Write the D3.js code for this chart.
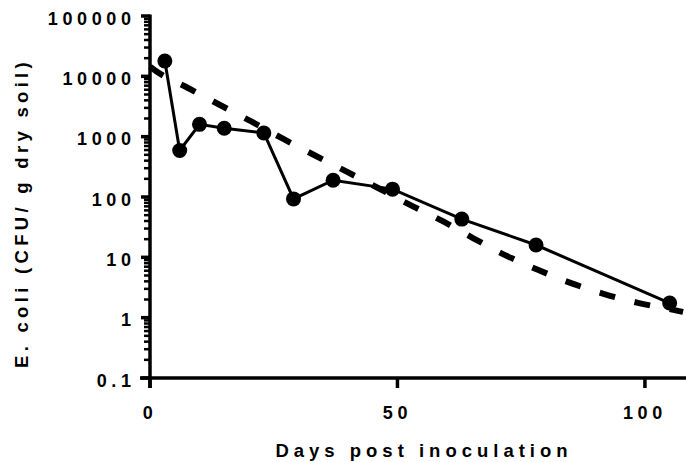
<!DOCTYPE html>
<html>
<head>
<meta charset="utf-8">
<script src="https://cdn.jsdelivr.net/npm/d3@7/dist/d3.min.js"></script>
<style>
  html, body { margin: 0; padding: 0; background: #fff; }
  svg { display: block; }
  text { font-family: "Liberation Sans", Arial, Helvetica, sans-serif; font-weight: bold; fill: #000; }
</style>
</head>
<body>
<svg id="chart" width="686" height="462"></svg>
<script>
// Measured E. coli counts (CFU / g dry soil) by day
const days = [3, 6, 10, 15, 23, 29, 37, 49, 63, 78, 105];
const cfu = [18000, 590, 1600, 1380, 1150, 93, 190, 135, 43, 16, 1.75];

// Fitted decay curve (dashed), sampled along the fit
const fitDays = [0, 1.35, 7.68, 14.15, 20.55, 26.94, 33.35, 39.75, 46.08, 52.55, 58.95, 65.34, 71.75, 78.48, 85.23, 91.96, 99.03, 106.45, 107.7];
const fitCfu = [14500, 12000, 6410, 3350, 1770, 916, 488, 263, 141, 74, 40.5, 20.7, 10.9, 6.17, 3.7, 2.44, 1.73, 1.31, 1.24];

// Axis ticks
const xTicks = [0, 50, 100];
const yTicks = [0.1, 1, 10, 100, 1000, 10000, 100000];
const yTickLabels = ["0.1", "1", "10", "100", "1000", "10000", "100000"];

const xTitle = "Days post inoculation";
const yTitle = "E. coli (CFU/ g dry soil)";

const svg = d3.select("#chart");

const x = d3.scaleLinear().domain([0, 108.3]).range([150, 686]);
const y = d3.scaleLog().domain([0.1, 100000]).range([378, 16]);

const x0 = x(0), yb = y(0.1);

// Minor ticks: 2..9 within each decade
const minorTicks = [];
yTicks.slice(0, -1).forEach(d => {
  for (let k = 2; k <= 9; k++) minorTicks.push(d * k);
});

const axisG = svg.append("g");

// Y axis line (extends below the origin like an offset tick)
axisG.append("line")
  .attr("x1", x0).attr("x2", x0)
  .attr("y1", y(100000) - 1.5).attr("y2", yb + 10)
  .attr("stroke", "#000").attr("stroke-width", 3.5);

// X axis line (extends left of the origin)
axisG.append("line")
  .attr("x1", x0 - 10).attr("x2", x.range()[1])
  .attr("y1", yb).attr("y2", yb)
  .attr("stroke", "#000").attr("stroke-width", 3.5);

// Y major ticks
axisG.selectAll("line.ymaj").data(yTicks).join("line")
  .attr("class", "ymaj")
  .attr("x1", x0 - 9).attr("x2", x0)
  .attr("y1", d => y(d)).attr("y2", d => y(d))
  .attr("stroke", "#000").attr("stroke-width", 3.5);

// Y minor ticks
axisG.selectAll("line.ymin").data(minorTicks).join("line")
  .attr("class", "ymin")
  .attr("x1", x0 - 6).attr("x2", x0)
  .attr("y1", d => y(d)).attr("y2", d => y(d))
  .attr("stroke", "#000").attr("stroke-width", 2.5);

// X ticks
axisG.selectAll("line.xt").data(xTicks).join("line")
  .attr("class", "xt")
  .attr("x1", d => x(d)).attr("x2", d => x(d))
  .attr("y1", yb).attr("y2", yb + 10)
  .attr("stroke", "#000").attr("stroke-width", 3.5);

// Y tick labels
axisG.selectAll("text.yl").data(yTicks).join("text")
  .attr("class", "yl")
  .attr("x", x0 - 14.5)
  .attr("y", d => y(d) + 8.8)
  .attr("text-anchor", "end")
  .style("font-size", "18px")
  .style("letter-spacing", "4.6px")
  .text((d, i) => yTickLabels[i]);

// X tick labels
axisG.selectAll("text.xl").data(xTicks).join("text")
  .attr("class", "xl")
  .attr("x", d => x(d))
  .attr("y", 418.5)
  .attr("text-anchor", "middle")
  .style("font-size", "18px")
  .style("letter-spacing", "4.6px")
  .text(d => d);

// Axis titles
svg.append("text")
  .attr("x", 424).attr("y", 457)
  .attr("text-anchor", "middle")
  .style("font-size", "18.5px")
  .style("letter-spacing", "5px")
  .text(xTitle);

svg.append("text")
  .attr("transform", "translate(28,213) rotate(-90)")
  .attr("text-anchor", "middle")
  .style("font-size", "18.5px")
  .style("letter-spacing", "4.3px")
  .text(yTitle);

// Fitted curve (dashed)
const fitLine = d3.line()
  .x((d, i) => x(fitDays[i]))
  .y(d => y(d))
  .curve(d3.curveMonotoneX);

svg.append("path")
  .datum(fitCfu)
  .attr("d", fitLine)
  .attr("fill", "none")
  .attr("stroke", "#000")
  .attr("stroke-width", 6)
  .attr("stroke-dasharray", "16,20");

// Observed data: line + markers
const obsLine = d3.line()
  .x((d, i) => x(days[i]))
  .y(d => y(d));

svg.append("path")
  .datum(cfu)
  .attr("d", obsLine)
  .attr("fill", "none")
  .attr("stroke", "#000")
  .attr("stroke-width", 3);

svg.selectAll("circle.pt").data(cfu).join("circle")
  .attr("class", "pt")
  .attr("cx", (d, i) => x(days[i]))
  .attr("cy", d => y(d))
  .attr("r", 7.5)
  .attr("fill", "#000");
</script>
</body>
</html>
